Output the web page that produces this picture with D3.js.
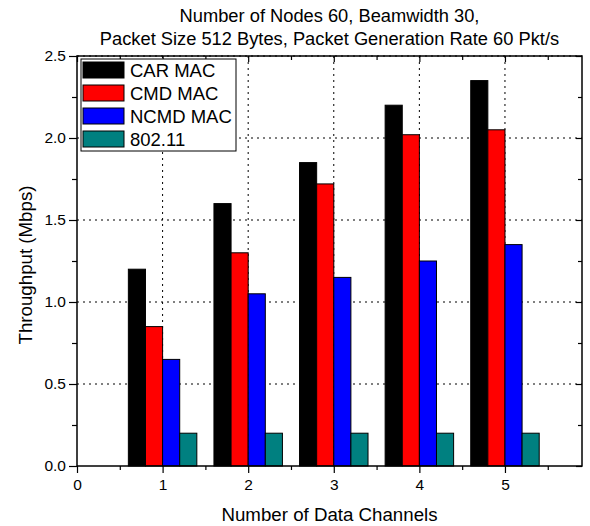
<!DOCTYPE html>
<html><head><meta charset="utf-8">
<script src="https://cdn.jsdelivr.net/npm/d3@7"></script>
<style>
body{margin:0;background:#fff;}
text{font-family:"Liberation Sans",Arial,sans-serif;fill:#000;}
</style></head><body>
<svg id="c" width="590" height="526"></svg>
<script>
const categories = [1, 2, 3, 4, 5];
const seriesNames = ["CAR MAC", "CMD MAC", "NCMD MAC", "802.11"];
const carMac = [1.2, 1.6, 1.85, 2.2, 2.35];
const cmdMac = [0.85, 1.3, 1.72, 2.02, 2.05];
const ncmdMac = [0.65, 1.05, 1.15, 1.25, 1.35];
const dot11 = [0.2, 0.2, 0.2, 0.2, 0.2];
const xMajorTicks = [0, 1, 2, 3, 4, 5];
const xMinorTicks = [0.5, 1.5, 2.5, 3.5, 4.5, 5.5];
const yMajorTicks = [0, 0.5, 1.0, 1.5, 2.0, 2.5];
const yMinorTicks = [0.25, 0.75, 1.25, 1.75, 2.25];
const colors = ["#000000", "#ff0000", "#0000ff", "#008080"];

const allSeries = [carMac, cmdMac, ncmdMac, dot11];
const svg = d3.select("#c");
const L = 77, R = 582, T = 56, B = 466;
const x = d3.scaleLinear().domain([0, 5.9]).range([L, R]);
const y = d3.scaleLinear().domain([0, 2.5]).range([B, T]);
const barW = 0.2;

// grid
const g = svg.append("g");
g.selectAll("line.gx").data(xMajorTicks.filter(d => d > 0)).join("line")
  .attr("x1", d => x(d)).attr("x2", d => x(d)).attr("y1", T).attr("y2", B)
  .attr("stroke", "#000").attr("stroke-width", 1).attr("stroke-dasharray", "2,4");
g.selectAll("line.gy").data(yMajorTicks.filter(d => d > 0)).join("line")
  .attr("y1", d => y(d)).attr("y2", d => y(d)).attr("x1", L).attr("x2", R)
  .attr("stroke", "#000").attr("stroke-width", 1).attr("stroke-dasharray", "2,4");

// bars
allSeries.forEach((vals, si) => {
  svg.append("g").selectAll("rect").data(vals).join("rect")
    .attr("x", (d, i) => x(categories[i] - 2 * barW + si * barW))
    .attr("width", x(barW) - x(0))
    .attr("y", d => y(d))
    .attr("height", d => y(0) - y(d))
    .attr("fill", colors[si])
    .attr("stroke", "#000").attr("stroke-width", 1);
});

// frame
svg.append("rect").attr("x", L).attr("y", T).attr("width", R - L).attr("height", B - T)
  .attr("fill", "none").attr("stroke", "#000").attr("stroke-width", 1.5);

function styleAxis(sel) {
  sel.select(".domain").remove();
  sel.selectAll("line").attr("stroke", "#000").attr("stroke-width", 1.2);
  sel.selectAll("text").style("font-size", "15.5px").style("font-family", "Liberation Sans, Arial, sans-serif");
}
svg.append("g").attr("transform", `translate(0,${B})`)
  .call(d3.axisBottom(x).tickValues(xMajorTicks).tickSize(7).tickPadding(6).tickFormat(d3.format("d"))).call(styleAxis);
svg.append("g").attr("transform", `translate(0,${B})`)
  .call(d3.axisBottom(x).tickValues(xMinorTicks).tickSize(4).tickFormat("")).call(styleAxis);
svg.append("g").attr("transform", `translate(0,${T})`)
  .call(d3.axisTop(x).tickValues(xMajorTicks).tickSize(-6).tickFormat("")).call(styleAxis);
svg.append("g").attr("transform", `translate(0,${T})`)
  .call(d3.axisTop(x).tickValues(xMinorTicks).tickSize(-4).tickFormat("")).call(styleAxis);
svg.append("g").attr("transform", `translate(${L},0)`)
  .call(d3.axisLeft(y).tickValues(yMajorTicks).tickSize(8).tickPadding(3).tickFormat(d3.format(".1f"))).call(styleAxis);
svg.append("g").attr("transform", `translate(${L},0)`)
  .call(d3.axisLeft(y).tickValues(yMinorTicks).tickSize(5).tickFormat("")).call(styleAxis);
svg.append("g").attr("transform", `translate(${R},0)`)
  .call(d3.axisRight(y).tickValues(yMajorTicks).tickSize(-6).tickFormat("")).call(styleAxis);
svg.append("g").attr("transform", `translate(${R},0)`)
  .call(d3.axisRight(y).tickValues(yMinorTicks).tickSize(-4).tickFormat("")).call(styleAxis);

// legend
const lg = svg.append("g");
lg.append("rect").attr("x", 81).attr("y", 59).attr("width", 155).attr("height", 92)
  .attr("fill", "#fff").attr("stroke", "#000").attr("stroke-width", 1);
seriesNames.forEach((n, i) => {
  const yy = 62 + i * 23;
  lg.append("rect").attr("x", 83).attr("y", yy).attr("width", 41).attr("height", 16)
    .attr("fill", colors[i]).attr("stroke", "#000").attr("stroke-width", 1);
  lg.append("text").attr("x", 130).attr("y", yy + 15).text(n).style("font-size", "18.5px");
});

// titles
const cx = (L + R) / 2;
svg.append("text").attr("x", cx).attr("y", 22).attr("text-anchor", "middle").style("font-size", "18.3px")
  .text("Number of Nodes 60, Beamwidth 30,");
svg.append("text").attr("x", cx).attr("y", 45).attr("text-anchor", "middle").style("font-size", "18.3px")
  .text("Packet Size 512 Bytes, Packet Generation Rate 60 Pkt/s");
svg.append("text").attr("x", cx).attr("y", 521).attr("text-anchor", "middle").style("font-size", "18.7px")
  .text("Number of Data Channels");
svg.append("text").attr("transform", `translate(32,265) rotate(-90)`).attr("text-anchor", "middle")
  .style("font-size", "18.7px").text("Throughput (Mbps)");
</script>
</body></html>
